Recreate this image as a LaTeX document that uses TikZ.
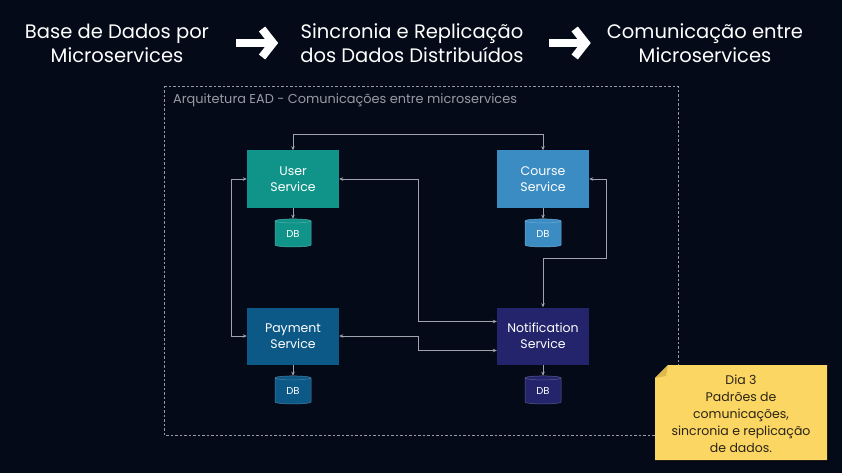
\documentclass[tikz,border=0pt]{standalone}
\usepackage{fontspec}
\setmainfont{Poppins}
\usetikzlibrary{arrows.meta,shapes.geometric,positioning}

\definecolor{bgc}{RGB}{4,10,24}
\definecolor{linkc}{RGB}{160,164,172}
\definecolor{framec}{RGB}{150,155,165}
\definecolor{userc}{RGB}{16,148,138}
\definecolor{coursec}{RGB}{60,140,196}
\definecolor{payc}{RGB}{12,88,134}
\definecolor{notifc}{RGB}{36,36,108}
\definecolor{notec}{RGB}{252,214,98}
\definecolor{notefold}{RGB}{222,186,78}
\definecolor{notetxt}{RGB}{42,36,22}

\tikzset{
    heading/.style={white, align=center, inner sep=0pt, font=\fontsize{19.5}{24}\selectfont},
    svc/.style={minimum width=92pt, minimum height=57pt, inner sep=0pt, align=center,
        text=white, font=\fontsize{12.5}{16}\selectfont},
    dbase/.style={cylinder, shape border rotate=90, aspect=0.3, minimum width=36pt,
        minimum height=28pt, inner sep=0pt, text=white, font=\fontsize{10}{11}\selectfont},
    link/.style={draw=linkc, line width=0.7pt},
    both/.style={link, {Stealth[length=4pt,width=3.5pt]}-{Stealth[length=4pt,width=3.5pt]}},
    one/.style={link, -{Stealth[length=4pt,width=3.5pt]}},
    bigarrow/.style={white, line width=8.5pt, -{Straight Barb[length=11pt,width=28pt,line width=8pt]}},
}

\begin{document}
\begin{tikzpicture}[x=1pt, y=-1pt]
    % Background
    \fill[bgc] (0,0) rectangle (842,473);
    \useasboundingbox (0,0) rectangle (842,473);

    % Headings
    \node[heading] (t1) at (117,43) {Base de Dados por\\Microservices};
    \node[heading] (t2) at (412,43) {Sincronia e Replicação\\dos Dados Distribuídos};
    \node[heading] (t3) at (705,43) {Comunicação entre\\Microservices};
    \draw[bigarrow] ([xshift=-22pt]t2.west) ++(-42,0) coordinate (a1) -- ([xshift=-22pt]t2.west);
    \draw[bigarrow] ([xshift=-16pt]t3.west) ++(-42,0) coordinate (a2) -- ([xshift=-16pt]t3.west);

    % Dashed frame
    \draw[framec, dash pattern=on 2.5pt off 2pt, line width=0.6pt] (164,86) rectangle (678,435);
    \node[anchor=west, inner sep=0pt, text=framec, font=\fontsize{12.9}{14}\selectfont]
        (frametitle) at (173,100) {Arquitetura EAD - Comunicações entre microservices};

    % Services and their databases
    \foreach \n/\x/\y/\c/\t in {user/293/179/userc/{User\\Service},
                                course/543/179/coursec/{Course\\Service},
                                pay/293/336/payc/{Payment\\Service},
                                notif/543/336/notifc/{Notification\\Service}} {
        \node[svc, fill=\c] (\n) at (\x,\y) {\t};
        \node[dbase, fill=\c, draw=\c!75!white, line width=0.5pt, below=11pt of \n] (\n db) {DB};
        \draw[one] (\n) -- (\n db);
    }

    % Connectors between services
    \draw[both] (user.north) -- ++(0,-16) -| (course.north);
    \draw[both] (user.west) -- ++(-15,0) |- (pay.west);
    \draw[both] (user.east) -- ++(79,0) |- ([yshift=14.5pt]notif.west);
    \draw[both] (pay.east) -- ++(79,0) |- ([yshift=-14.5pt]notif.west);
    \draw[both] (course.east) -- ++(17,0) -- ++(0,79) -| (notif.north);

    % Sticky note
    \fill[black, opacity=0.35] (657,380) -- (670,367) -- (829,367) -- (829,462) -- (657,462) -- cycle;
    \fill[notec] (655,378) -- (668,365) -- (827,365) -- (827,460) -- (655,460) -- cycle;
    \fill[notefold] (655,378) -- (668,365) -- (666,376) -- cycle;
    \node[align=center, text=notetxt, font=\fontsize{12.5}{17}\selectfont] (note) at (741,414)
        {Dia 3\\Padrões de\\comunicações,\\sincronia e replicação\\de dados.};
\end{tikzpicture}
\end{document}
